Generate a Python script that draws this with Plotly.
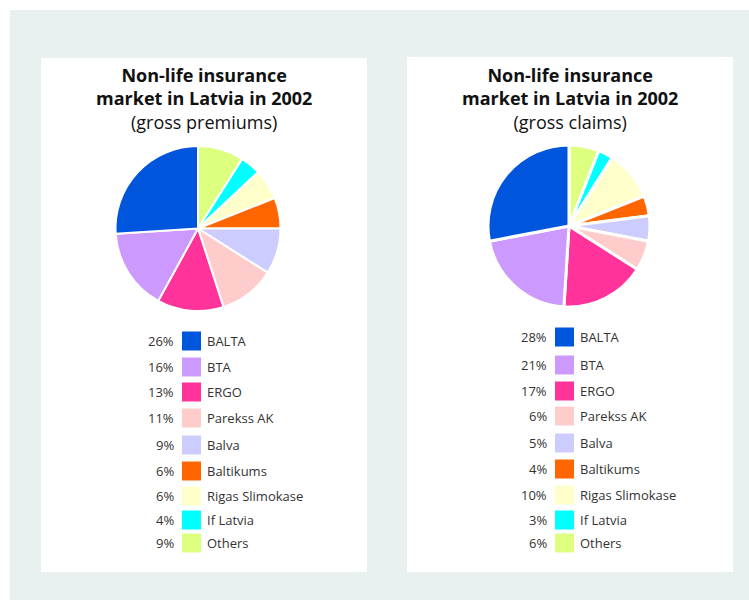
import plotly.graph_objects as go

companies = ["BALTA", "BTA", "ERGO", "Parekss AK", "Balva", "Baltikums",
             "Rigas Slimokase", "If Latvia", "Others"]
premiums = [26, 16, 13, 11, 9, 6, 6, 4, 9]
claims = [28, 21, 17, 6, 5, 4, 10, 3, 6]
colors = ["#0055DD", "#CC99FF", "#FF3399", "#FFCCCC", "#CCCCFF", "#FF6600",
          "#FFFFCC", "#00FFFF", "#DDFF80"]
title_lines = ["Non-life insurance", "market in Latvia in 2002"]
subtitles = ["(gross premiums)", "(gross claims)"]

W, H = 749, 600
FONT = "Open Sans"

fig = go.Figure()

panels = [
    dict(x0=41, x1=367, y0=58, y1=572, pie=(115, 281, 146, 311), sq=191.5,
         rows=[341, 367, 392, 418, 445, 471, 496, 520, 543], vals=premiums, lw=2),
    dict(x0=407, x1=733, y0=57, y1=572, pie=(487, 651, 145, 307), sq=564.5,
         rows=[337, 365, 391, 416, 443, 469, 495, 520, 543], vals=claims, lw=3),
]

shapes = [dict(type="rect", xref="x", yref="y", x0=10, x1=W, y0=10, y1=H,
               fillcolor="#E8F1EF", line=dict(width=0), layer="below")]
annotations = []

for i, p in enumerate(panels):
    shapes.append(dict(type="rect", xref="x", yref="y", x0=p["x0"], x1=p["x1"],
                       y0=p["y0"], y1=p["y1"], fillcolor="white",
                       line=dict(width=0), layer="below"))
    cx = (p["x0"] + p["x1"]) / 2
    title = "<b>" + title_lines[0] + "<br>" + title_lines[1] + "</b><br>" + subtitles[i]
    annotations.append(dict(x=cx, y=98, xref="x", yref="y", text=title,
                            showarrow=False, xanchor="center", yanchor="middle",
                            align="center", borderpad=0,
                            font=dict(family=FONT, size=18, color="#111")))
    px0, px1, py0, py1 = p["pie"]
    fig.add_trace(go.Pie(
        labels=companies[::-1], values=p["vals"][::-1], sort=False,
        direction="clockwise", rotation=0,
        marker=dict(colors=colors[::-1], line=dict(color="white", width=p["lw"])),
        textinfo="none", hoverinfo="label+percent", showlegend=False,
        domain=dict(x=[px0 / W, px1 / W], y=[1 - py1 / H, 1 - py0 / H]),
    ))
    sq = p["sq"]
    fig.add_trace(go.Scatter(
        x=[sq] * len(companies), y=p["rows"], mode="markers",
        marker=dict(symbol="square", size=19, color=colors, line=dict(width=0)),
        hoverinfo="skip", showlegend=False, xaxis="x", yaxis="y"))
    for name, v, yy in zip(companies, p["vals"], p["rows"]):
        annotations.append(dict(x=sq - 16, y=yy, xref="x", yref="y", text=f"{v}%",
                                showarrow=False, xanchor="right", yanchor="middle",
                                font=dict(family=FONT, size=13, color="#333")))
        annotations.append(dict(x=sq + 13, y=yy, xref="x", yref="y", text=name,
                                showarrow=False, xanchor="left", yanchor="middle",
                                font=dict(family=FONT, size=13, color="#333")))

fig.update_layout(
    width=W, height=H, margin=dict(l=0, r=0, t=0, b=0),
    paper_bgcolor="white", plot_bgcolor="rgba(0,0,0,0)",
    xaxis=dict(range=[0, W], visible=False, fixedrange=True, domain=[0, 1]),
    yaxis=dict(range=[H, 0], visible=False, fixedrange=True, domain=[0, 1]),
    shapes=shapes, annotations=annotations,
)

fig.write_html("out.html", include_plotlyjs=True, config={"displayModeBar": False},
               post_script="document.body.style.margin='0';document.body.style.overflow='hidden';")
